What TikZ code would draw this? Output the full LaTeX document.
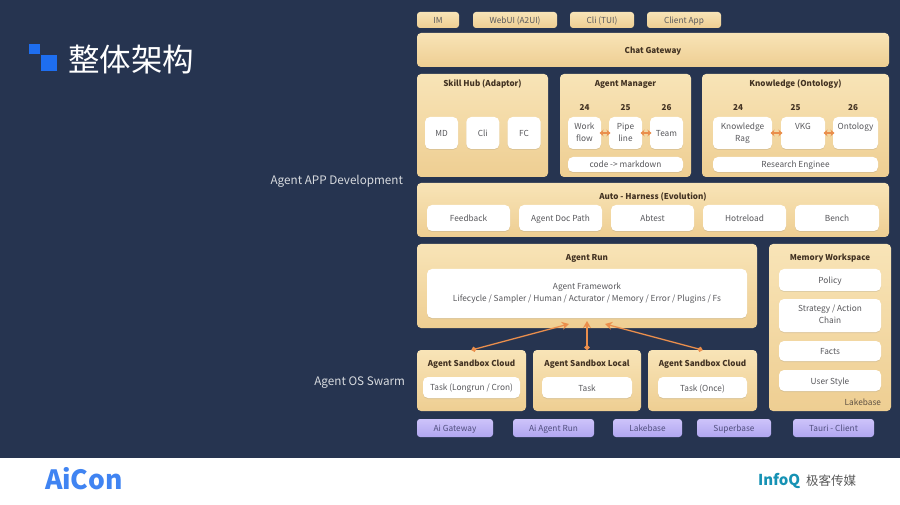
\documentclass[tikz,border=0pt]{standalone}
\usepackage{fontspec}
\setmainfont{Noto Sans CJK SC}
\usetikzlibrary{arrows.meta, positioning, shadows}
\definecolor{slidebg}{RGB}{38,52,80}
\definecolor{sandtop}{RGB}{248,228,183}
\definecolor{sandbot}{RGB}{238,206,146}
\definecolor{lilactop}{RGB}{205,195,250}
\definecolor{lilacbot}{RGB}{176,166,240}
\definecolor{titleink}{RGB}{66,50,34}
\definecolor{boxink}{RGB}{88,88,92}
\definecolor{baseink}{RGB}{80,78,125}
\definecolor{flowarrow}{RGB}{234,142,76}
\definecolor{logoblue}{RGB}{30,110,240}
\newcommand{\topprop}{\rule{0pt}{9pt}}
\newcommand{\lowprop}{\rule[-2pt]{0pt}{2pt}}
\begin{document}
\begin{tikzpicture}[x=1pt,y=-1pt,every node/.style={inner sep=0pt,outer sep=0pt}]
 \tikzstyle{panelbox}=[rectangle,rounded corners=4pt,top color=sandtop,bottom color=sandbot,
   anchor=north west,font=\fontsize{8.1}{10}\selectfont\bfseries,text=titleink,
   execute at begin node=\topprop\lowprop]
 \tikzstyle{tagbox}=[rectangle,rounded corners=3pt,top color=sandtop,bottom color=sandbot,
   minimum height=16pt,font=\fontsize{8.3}{10}\selectfont,text=boxink,anchor=north west,
   execute at begin node=\topprop\lowprop]
 \tikzstyle{whitebox}=[rectangle,rounded corners=5pt,fill=white,anchor=north west,align=center,
   font=\fontsize{8.3}{12}\selectfont,text=boxink,
   execute at begin node=\topprop,execute at end node=\lowprop,
   drop shadow={shadow xshift=0pt,shadow yshift=-1pt,opacity=.18}]
 \tikzstyle{twolines}=[whitebox,execute at begin node=\rule{0pt}{11pt}]
 \tikzstyle{basebox}=[rectangle,rounded corners=3pt,top color=lilactop,bottom color=lilacbot,
   minimum height=18pt,font=\fontsize{8.3}{10}\selectfont,text=baseink,anchor=north west,
   execute at begin node=\topprop\lowprop]
 \tikzstyle{paneltitle}=[font=\fontsize{8.1}{10}\selectfont\bfseries,text=titleink,
   execute at begin node=\topprop\lowprop]
 \tikzstyle{sidelabel}=[font=\fontsize{11.7}{13}\selectfont,text=white!82!slidebg]
 \tikzstyle{stepflow}=[<->,>={Stealth[length=4pt,width=6.5pt]},flowarrow,line width=1.6pt,
   shorten <=-1.5pt,shorten >=-1.5pt]
 \tikzstyle{uplink}=[{Circle[length=5pt]}-{Stealth[length=7pt,width=8pt]},flowarrow,line width=1.3pt]
 \useasboundingbox (0,0) rectangle (900,505);
 \fill[white] (0,0) rectangle (900,505);
 \fill[slidebg] (0,0) rectangle (900,458);
 % title
 \node (marksmall) [fill=logoblue,minimum width=11pt,minimum height=10pt,anchor=north west] at (29,44) {};
 \node (markbig) [fill=logoblue,minimum width=16pt,minimum height=16pt,anchor=north west] at (41,55) {};
 \node (title) [anchor=west,text=white,font=\fontsize{31.5}{34}\selectfont] at (68,60) {整体架构};
 % side labels
 \node (applabel) [sidelabel,anchor=east] at (403,181.5) {Agent APP Development};
 \node (oslabel) [sidelabel,anchor=east] at (405,382.5) {Agent OS Swarm};
 % clients
 \node (im) [tagbox,minimum width=42pt] at (417,12) {IM};
 \node (webui) [tagbox,minimum width=84pt] at (473,12) {WebUI (A2UI)};
 \node (cli) [tagbox,minimum width=64pt] at (570,12) {Cli (TUI)};
 \node (client) [tagbox,minimum width=74pt] at (647,12) {Client App};
 \node (chat) [panelbox,minimum width=472pt,minimum height=34pt] at (417,33) {Chat Gateway};
 % skill hub
 \node (skill) [panelbox,minimum width=131pt,minimum height=103pt] at (417,74) {};
 \node (skilltitle) [paneltitle] at (482.5,83) {Skill Hub (Adaptor)};
 \node (md) [whitebox,minimum width=33pt,minimum height=32pt] at (425,117) {MD};
 \node (skillcli) [whitebox,minimum width=33pt,minimum height=32pt,right=8.3pt of md] {Cli};
 \node (fc) [whitebox,minimum width=33pt,minimum height=32pt,right=8.3pt of skillcli] {FC};
 % agent manager
 \node (manager) [panelbox,minimum width=131pt,minimum height=103pt] at (560,74) {};
 \node (managertitle) [paneltitle] at (625.5,83) {Agent Manager};
 \node (work) [twolines,minimum width=33pt,minimum height=32pt] at (568,117) {Work\\flow};
 \node (pipe) [twolines,minimum width=33pt,minimum height=32pt,right=8pt of work] {Pipe\\line};
 \node (team) [whitebox,minimum width=33pt,minimum height=32pt,right=8pt of pipe] {Team};
 \node (code) [whitebox,minimum width=115pt,minimum height=15pt] at (568,157) {code -> markdown};
 \node (workyear) [paneltitle] at (584.5,107) {24};
 \node (pipeyear) [paneltitle] at (625.5,107) {25};
 \node (teamyear) [paneltitle] at (666.5,107) {26};
 \draw[stepflow] (work) -- (pipe);
 \draw[stepflow] (pipe) -- (team);
 % knowledge
 \node (knowledge) [panelbox,minimum width=187pt,minimum height=103pt] at (702,74) {};
 \node (knowledgetitle) [paneltitle] at (795.5,83) {Knowledge (Ontology)};
 \node (rag) [twolines,minimum width=59pt,minimum height=32pt] at (713,117) {Knowledge\\Rag};
 \node (vkg) [twolines,minimum width=44pt,minimum height=32pt] at (781,117) {VKG\\\mbox{}};
 \node (onto) [twolines,minimum width=45pt,minimum height=32pt] at (833,117) {Ontology\\\mbox{}};
 \node (research) [whitebox,minimum width=165pt,minimum height=15pt] at (713,157) {Research Enginee};
 \node (ragyear) [paneltitle] at (738,107) {24};
 \node (vkgyear) [paneltitle] at (795.5,107) {25};
 \node (ontoyear) [paneltitle] at (853,107) {26};
 \draw[stepflow] (rag) -- (vkg);
 \draw[stepflow] (vkg) -- (onto);
 % harness
 \node (harness) [panelbox,minimum width=472pt,minimum height=54pt] at (417,183) {};
 \node (harnesstitle) [paneltitle] at (653,196) {Auto - Harness (Evolution)};
 \node (feedback) [whitebox,minimum width=83pt,minimum height=26pt] at (427,205) {Feedback};
 \node (docpath) [whitebox,minimum width=83pt,minimum height=26pt,right=9pt of feedback] {Agent Doc Path};
 \node (abtest) [whitebox,minimum width=83pt,minimum height=26pt,right=9pt of docpath] {Abtest};
 \node (hotreload) [whitebox,minimum width=83pt,minimum height=26pt,right=9pt of abtest] {Hotreload};
 \node (bench) [whitebox,minimum width=84pt,minimum height=26pt,right=9pt of hotreload] {Bench};
 % agent run
 \node (run) [panelbox,minimum width=340pt,minimum height=84pt] at (417,244) {};
 \node (runtitle) [paneltitle] at (587,257) {Agent Run};
 \node (framework) [twolines,minimum width=320pt,minimum height=49pt] at (427,269)
   {Agent Framework\\Lifecycle / Sampler / Human / Acturator / Memory / Error / Plugins / Fs};
 % sandboxes
 \node (cloudleft) [panelbox,minimum width=109pt,minimum height=61pt] at (417,350) {};
 \node (cloudlefttitle) [paneltitle] at (471.5,363) {Agent Sandbox Cloud};
 \node (tasklong) [whitebox,minimum width=97pt,minimum height=21pt] at (423,377) {Task (Longrun / Cron)};
 \node (local) [panelbox,minimum width=108pt,minimum height=61pt] at (533,350) {};
 \node (localtitle) [paneltitle] at (587,363) {Agent Sandbox Local};
 \node (task) [whitebox,minimum width=90pt,minimum height=21pt] at (542,377) {Task};
 \node (cloudright) [panelbox,minimum width=109pt,minimum height=61pt] at (648,350) {};
 \node (cloudrighttitle) [paneltitle] at (702.5,363) {Agent Sandbox Cloud};
 \node (taskonce) [whitebox,minimum width=89pt,minimum height=21pt] at (658,377) {Task (Once)};
 \coordinate (runleft) at (569,324);
 \coordinate (runmid) at (587,321);
 \coordinate (runright) at (605,324);
 \draw[uplink] (cloudleft.north) -- (runleft);
 \draw[uplink] (local.north) -- (runmid);
 \draw[uplink] (cloudright.north) -- (runright);
 % memory
 \node (memory) [panelbox,minimum width=122pt,minimum height=167pt] at (769,244) {};
 \node (memorytitle) [paneltitle] at (830,257) {Memory Workspace};
 \node (policy) [whitebox,minimum width=102pt,minimum height=22pt] at (779,269) {Policy};
 \node (strategy) [twolines,minimum width=102pt,minimum height=33pt] at (779,299) {Strategy / Action\\Chain};
 \node (facts) [whitebox,minimum width=102pt,minimum height=20pt] at (779,341) {Facts};
 \node (userstyle) [whitebox,minimum width=102pt,minimum height=21pt] at (779,370) {User Style};
 \node (memlake) [anchor=east,font=\fontsize{8.3}{10}\selectfont,text=titleink!85] at (881,402) {Lakebase};
 % base services
 \node (aigw) [basebox,minimum width=76pt] at (417,419) {Ai Gateway};
 \node (airun) [basebox,minimum width=81pt] at (513,419) {Ai Agent Run};
 \node (lake) [basebox,minimum width=69pt] at (613,419) {Lakebase};
 \node (superb) [basebox,minimum width=74pt] at (697,419) {Superbase};
 \node (tauri) [basebox,minimum width=81pt] at (793,419) {Tauri - Client};
 % footer
 \node (aicon) [anchor=west,text=logoblue!85!white,font=\fontsize{26.5}{28}\selectfont\bfseries] at (45,479) {AiCon};
 \node (infoq) [anchor=west,text=logoblue!75!green,font=\fontsize{15}{17}\selectfont\bfseries] at (758,481) {InfoQ};
 \node (geek) [anchor=west,text=black!65,font=\fontsize{12.5}{14}\selectfont] at (806,481) {极客传媒};
\end{tikzpicture}
\end{document}
